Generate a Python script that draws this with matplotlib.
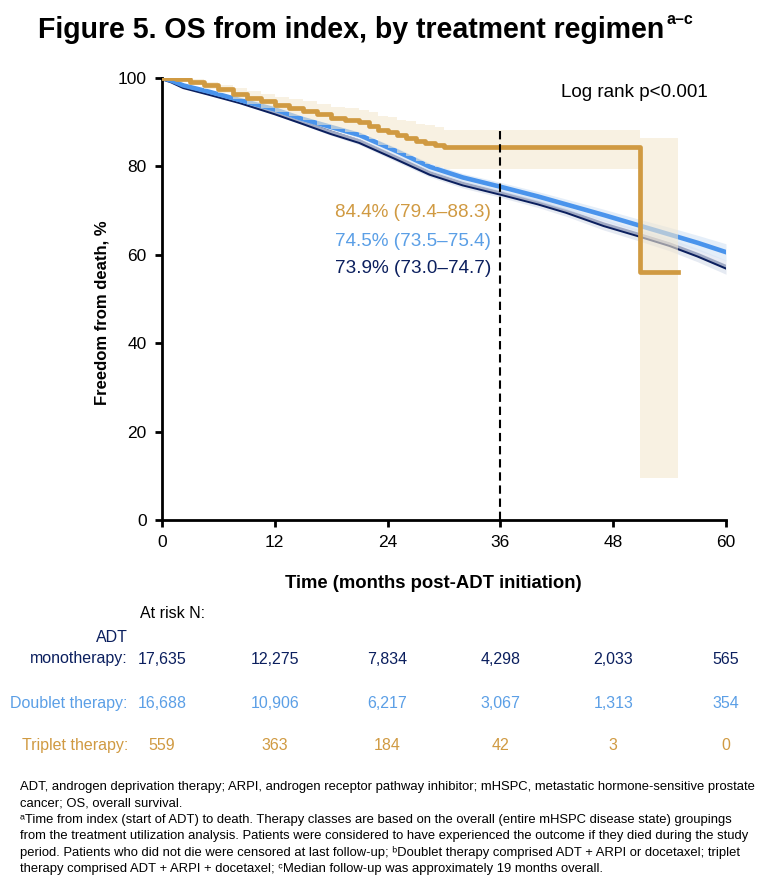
import matplotlib
matplotlib.use("Agg")
import matplotlib.pyplot as plt

# ---------------- data ----------------
months = [0, 1, 2.3, 5, 8.3, 12, 14.7, 18, 21, 25, 28.5, 32, 36, 40, 43, 47, 50.5, 54, 57, 60]
adt_surv = [100, 99.3, 98.0, 96.5, 94.6, 92.1, 90.1, 87.6, 85.6, 81.8, 78.4, 76.0, 73.9, 71.7, 69.8, 66.8, 64.6, 62.3, 59.9, 57.2]
adt_lo = [100, 99.2, 97.8, 96.2, 94.3, 91.7, 89.6, 87.0, 84.9, 81.0, 77.6, 75.1, 73.0, 70.7, 68.7, 65.6, 63.3, 60.9, 58.4, 55.6]
adt_hi = [100, 99.4, 98.2, 96.8, 94.9, 92.5, 90.6, 88.2, 86.3, 82.6, 79.2, 76.9, 74.7, 72.7, 70.9, 68.0, 65.9, 63.7, 61.4, 58.8]

dbl_surv = [100, 99.4, 98.3, 96.9, 95.0, 92.9, 90.9, 88.9, 87.1, 83.4, 79.9, 77.5, 75.4, 73.2, 71.4, 69.0, 66.8, 64.6, 62.7, 60.6]
dbl_lo = [100, 99.3, 98.1, 96.6, 94.6, 92.4, 90.4, 88.3, 86.4, 82.6, 79.0, 76.6, 74.4, 72.1, 70.2, 67.7, 65.4, 63.0, 61.0, 58.7]
dbl_hi = [100, 99.5, 98.5, 97.2, 95.4, 93.4, 91.4, 89.5, 87.8, 84.2, 80.8, 78.4, 76.4, 74.3, 72.6, 70.3, 68.2, 66.2, 64.4, 62.5]

tri_months = [0, 1.5, 3, 4.5, 6, 7.5, 9, 10.5, 12, 13.5, 15, 16.5, 18, 19.5, 21, 22, 23, 24, 25, 26, 27, 28, 29, 30, 50.9, 54.9]
tri_surv = [100, 99.8, 99.2, 98.4, 97.5, 96.4, 95.5, 94.8, 94.0, 93.3, 92.6, 91.8, 91.0, 90.5, 90.0, 89.2, 88.3, 87.8, 87.0, 86.5, 85.7, 85.3, 84.8, 84.4, 56.1, 56.1]
tri_lo = [100, 99.4, 98.6, 97.6, 96.5, 95.2, 94.1, 93.2, 92.2, 91.3, 90.4, 89.4, 88.4, 87.8, 87.1, 86.1, 84.9, 84.2, 83.1, 82.4, 81.2, 80.6, 79.9, 79.4, 9.6, 9.6]
tri_hi = [100, 100, 99.7, 99.2, 98.5, 97.7, 97.0, 96.4, 95.8, 95.3, 94.7, 94.1, 93.5, 93.1, 92.8, 92.2, 91.5, 91.1, 90.6, 90.2, 89.6, 89.3, 88.9, 88.3, 86.4, 86.4]

xticks = [0, 12, 24, 36, 48, 60]
yticks = [0, 20, 40, 60, 80, 100]
row_labels = ["ADT\nmonotherapy:", "Doublet therapy:", "Triplet therapy:"]
at_risk = [
    ["17,635", "12,275", "7,834", "4,298", "2,033", "565"],
    ["16,688", "10,906", "6,217", "3,067", "1,313", "354"],
    ["559", "363", "184", "42", "3", "0"],
]
annotations = ["84.4% (79.4–88.3)", "74.5% (73.5–75.4)", "73.9% (73.0–74.7)"]

NAVY = "#0b1f5e"
BLUE = "#4a94ec"
GOLD = "#d09a42"
LBLUE = "#5b9fe6"

plt.rcParams["font.family"] = ["Liberation Sans", "DejaVu Sans"]

W, H = 774, 896
fig = plt.figure(figsize=(W / 100, H / 100), dpi=100)
renderer = fig.canvas.get_renderer()

def fx(px):
    return px / W

def fy(py):
    return 1 - py / H

def fit_text(t, target_px, base):
    bb = t.get_window_extent(renderer=renderer)
    t.set_fontsize(base * target_px / bb.width)
    return t

ax = fig.add_axes([fx(162), fy(520), fx(726) - fx(162), fy(78) - fy(520)])
ax.set_xlim(0, 60)
ax.set_ylim(0, 100)

# lines and bands
ax.fill_between(months, adt_lo, adt_surv, color="#d5dcea", alpha=0.6, lw=0, zorder=1.5)
ax.plot(months, adt_surv, color=NAVY, lw=3.3, zorder=2, solid_joinstyle="round")
ax.fill_between(months, adt_surv, adt_hi, color="#dfe5f1", alpha=0.7, lw=0, zorder=3)
ax.fill_between(months, dbl_lo, dbl_hi, color="#d3e3f5", alpha=0.6, lw=0, zorder=3.5)
ax.plot(months, dbl_surv, color=BLUE, lw=3.3, zorder=4, solid_joinstyle="round")
ax.fill_between(tri_months, tri_lo, tri_hi, step="post", color="#f4e8d0", alpha=0.6, lw=0, zorder=5)
ax.step(tri_months, tri_surv, where="post", color=GOLD, lw=3.4, zorder=6)

ax.plot([36, 36], [0, 88.7], color="black", lw=1.5, ls=(0, (4, 2.3)), zorder=7)

for sp in ["top", "right"]:
    ax.spines[sp].set_visible(False)
for sp in ["left", "bottom"]:
    ax.spines[sp].set_linewidth(2.0)
ax.set_xticks(xticks)
ax.set_yticks(yticks)
ax.tick_params(axis="both", direction="out", length=5, width=2, labelsize=12.5, pad=6)

ax.text(58.1, 96.8, "Log rank p<0.001", ha="right", va="center", fontsize=13.6)
ann_colors = [GOLD, LBLUE, NAVY]
ann_y = [69.5, 62.9, 57.0]
for t, c, yy in zip(annotations, ann_colors, ann_y):
    ax.text(35.0, yy, t, ha="right", va="center", fontsize=13.6, color=c)

# titles
title = fig.text(fx(38), fy(30), "Figure 5. OS from index, by treatment regimen", fontsize=18.5,
                 fontweight="bold", ha="left", va="center")
fit_text(title, 630, 18.5)
tb = title.get_window_extent(renderer=renderer)
fig.text((tb.x1 + 2) / W, fy(20), "a–c", fontsize=11.5, fontweight="bold", ha="left", va="center")
fig.text(fx(102), fy(313), "Freedom from death, %", rotation=90, fontsize=12,
         fontweight="bold", ha="center", va="center")
fig.text(fx(433), fy(583), "Time (months post-ADT initiation)", fontsize=13.3,
         fontweight="bold", ha="center", va="center")

# at-risk table
fig.text(fx(140), fy(614), "At risk N:", fontsize=11.5, ha="left", va="center")
row_y = [659, 703, 745]
row_colors = [NAVY, LBLUE, GOLD]
LAB_X = 128
for lab, vals, yy, c in zip(row_labels, at_risk, row_y, row_colors):
    if "\n" in lab:
        top, bot = lab.split("\n")
        fig.text(fx(LAB_X), fy(yy - 22), top, fontsize=11.5, ha="right", va="center", color=c)
        fig.text(fx(LAB_X), fy(yy), bot, fontsize=11.5, ha="right", va="center", color=c)
    else:
        fig.text(fx(LAB_X), fy(yy), lab, fontsize=11.5, ha="right", va="center", color=c)
    for xv, v in zip(xticks, vals):
        px = ax.transData.transform((xv, 0))[0] / W
        fig.text(px, fy(yy), v, fontsize=11.5, ha="center", va="center", color=c)

# footnotes
foot = [
    "ADT, androgen deprivation therapy; ARPI, androgen receptor pathway inhibitor; mHSPC, metastatic hormone-sensitive prostate",
    "cancer; OS, overall survival.",
    "ᵃTime from index (start of ADT) to death. Therapy classes are based on the overall (entire mHSPC disease state) groupings",
    "from the treatment utilization analysis. Patients were considered to have experienced the outcome if they died during the study",
    "period. Patients who did not die were censored at last follow-up; ᵇDoublet therapy comprised ADT + ARPI or docetaxel; triplet",
    "therapy comprised ADT + ARPI + docetaxel; ᶜMedian follow-up was approximately 19 months overall.",
]
ft = []
for i, line in enumerate(foot):
    ft.append(fig.text(fx(20), fy(787 + i * 16.4), line, fontsize=10, ha="left", va="center"))
w0 = ft[0].get_window_extent(renderer=renderer).width
fs = 10 * 737 / w0
for t in ft:
    t.set_fontsize(fs)

fig.savefig("out.png", dpi=100)
